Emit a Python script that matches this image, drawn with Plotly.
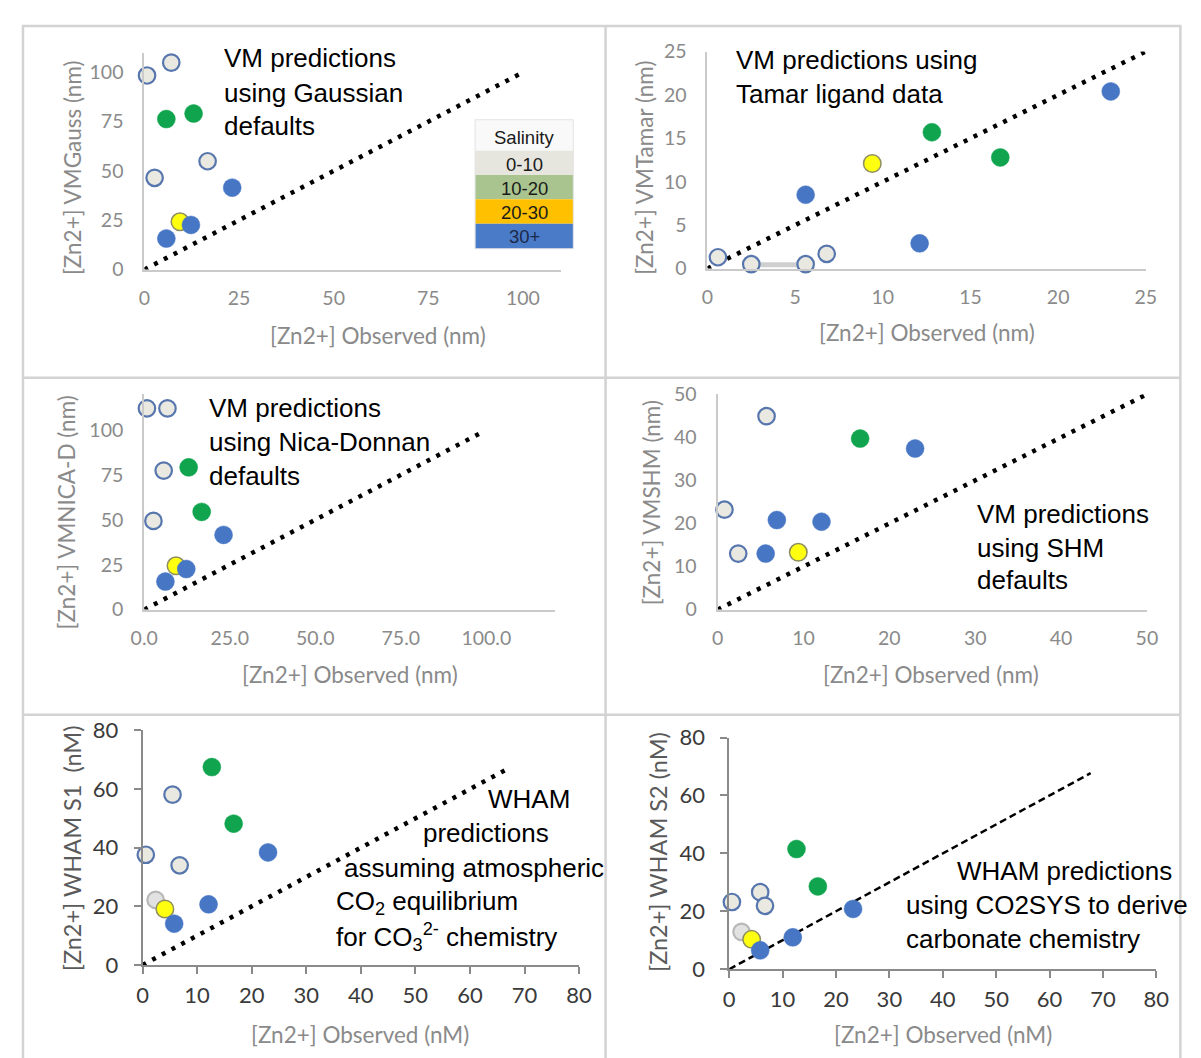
import plotly.graph_objects as go

# ---------------- data ----------------
salinity_classes = ["0-10", "10-20", "20-30", "30+"]

obs_gauss = [0.7, 7.1, 5.8, 13.0, 16.7, 2.7, 23.2, 9.4, 12.3, 5.8]
pred_gauss = [98.4, 104.9, 76.3, 79.1, 54.9, 46.5, 41.5, 24.2, 22.6, 15.7]
sal_gauss = ["0-10", "0-10", "10-20", "10-20", "0-10", "0-10", "30+", "20-30", "30+", "30+"]

obs_tamar = [0.6, 2.5, 5.6, 6.8, 5.6, 9.4, 12.1, 12.8, 16.7, 23.0]
pred_tamar = [1.3, 0.5, 0.5, 1.7, 8.5, 12.1, 2.9, 15.7, 12.8, 20.4]
sal_tamar = ["0-10", "0-10", "0-10", "0-10", "30+", "20-30", "30+", "10-20", "10-20", "30+"]
tamar_bar_x = [2.5, 5.6]
tamar_bar_y = [0.45, 0.45]

obs_nica = [0.8, 6.8, 5.7, 13.0, 2.7, 16.8, 23.2, 9.3, 12.3, 6.2]
pred_nica = [112, 112, 77.4, 79.2, 49.4, 54.4, 41.6, 24.4, 22.6, 15.6]
sal_nica = ["0-10", "0-10", "0-10", "10-20", "0-10", "10-20", "30+", "20-30", "30+", "30+"]

obs_shm = [12.7, 5.7, 16.6, 23.0, 0.8, 6.9, 12.1, 2.4, 5.6, 9.4]
pred_shm = [50.2, 44.9, 39.7, 37.4, 23.2, 20.8, 20.4, 13.0, 13.0, 13.3]
sal_shm = ["10-20", "0-10", "10-20", "30+", "0-10", "30+", "30+", "0-10", "30+", "20-30"]

obs_wham1 = [12.7, 5.5, 16.7, 0.6, 23.0, 6.8, 2.4, 4.1, 12.1, 5.8]
pred_wham1 = [67.5, 58.1, 48.2, 37.6, 38.4, 34.0, 22.2, 19.1, 20.7, 14.1]
sal_wham1 = ["10-20", "0-10", "10-20", "0-10", "30+", "0-10", "grey", "20-30", "30+", "30+"]

obs_wham2 = [12.6, 16.6, 5.8, 0.5, 6.7, 23.2, 2.3, 4.2, 11.9, 5.8]
pred_wham2 = [41.5, 28.6, 26.6, 23.2, 21.9, 20.8, 12.9, 10.3, 11.0, 6.5]
sal_wham2 = ["10-20", "10-20", "0-10", "0-10", "0-10", "30+", "grey", "20-30", "30+", "30+"]

one_to_one_end = [100, 25, 98, 50, 66.5, 67.7]

ticks_gauss = [0, 25, 50, 75, 100]
ticks_tamar = [0, 5, 10, 15, 20, 25]
ticks_nica = [0, 25, 50, 75, 100]
ticks_shm = [0, 10, 20, 30, 40, 50]
ticks_wham_x = [0, 10, 20, 30, 40, 50, 60, 70, 80]
ticks_wham_y = [0, 20, 40, 60, 80]

legend_title = "Salinity"

# ---------------- styling / layout ----------------
W, H = 1201, 1058
OFF = 8  # the page body adds an 8px margin; compensate so positions land where intended


def fx(p):
    return (p - OFF) / W


def fy(p):
    return 1 - (p - OFF) / H


draw_order = ["0-10", "grey", "20-30", "10-20", "30+"]
marker_style = {
    "0-10": dict(color="#e9e9e1", line=dict(color="#5776ad", width=2.2), size=16.5),
    "grey": dict(color="#e2e2e2", line=dict(color="#b8b8b8", width=2.2), size=16.5),
    "20-30": dict(color="#ffff10", line=dict(color="#8d8d60", width=1.5), size=17.5),
    "10-20": dict(color="#10a44f", line=dict(color="#10a44f", width=0.5), size=18),
    "30+": dict(color="#4676c4", line=dict(color="#4676c4", width=0.5), size=18),
}

panels = [
    dict(obs=obs_gauss, pred=pred_gauss, sal=sal_gauss, xr=[0, 110], yr=[0, 110],
         xt=ticks_gauss, yt=ticks_gauss, fmt="", box=(133.2, 559.2, 262, 39.4), theme="light",
         dash="4px,7px", lw=4.5,
         xtitle=("[Zn2+] Observed (nm)", 372.5, 330), ytitle=("[Zn2+] VMGauss (nm)", 59, 157)),
    dict(obs=obs_tamar, pred=pred_tamar, sal=sal_tamar, xr=[0, 25], yr=[0, 25],
         xt=ticks_tamar, yt=ticks_tamar, fmt="", box=(709.2, 1157.7, 261, 38.3), theme="light",
         dash="4px,7px", lw=4.5,
         xtitle=("[Zn2+] Observed (nm)", 934, 327), ytitle=("[Zn2+] VMTamar (nm)", 644, 158)),
    dict(obs=obs_nica, pred=pred_nica, sal=sal_nica, xr=[0, 120], yr=[0, 120],
         xt=ticks_nica, yt=ticks_nica, fmt=".1f", box=(133, 553, 611, 389.8), theme="light",
         dash="4px,7px", lw=4.5,
         xtitle=("[Zn2+] Observed (nm)", 343.5, 678), ytitle=("[Zn2+] VMNICA-D (nm)", 53.6, 511.7)),
    dict(obs=obs_shm, pred=pred_shm, sal=sal_shm, xr=[0, 50], yr=[0, 50],
         xt=ticks_shm, yt=ticks_shm, fmt="", box=(719.6, 1158.8, 611, 390), theme="light",
         dash="4px,7px", lw=4.5,
         xtitle=("[Zn2+] Observed (nm)", 938, 678), ytitle=("[Zn2+] VMSHM (nm)", 651.7, 501.7)),
    dict(obs=obs_wham1, pred=pred_wham1, sal=sal_wham1, xr=[0, 80], yr=[0, 80],
         xt=ticks_wham_x, yt=ticks_wham_y, fmt="", box=(131.3, 577.9, 975.7, 735), theme="dark",
         dash="4px,7px", lw=4.5,
         xtitle=("[Zn2+] Observed (nM)", 354, 1046.7), ytitle=("[Zn2+] WHAM S1  (nM)", 59.3, 855.8)),
    dict(obs=obs_wham2, pred=pred_wham2, sal=sal_wham2, xr=[0, 80], yr=[0, 80],
         xt=ticks_wham_x, yt=ticks_wham_y, fmt="", box=(731.5, 1168.4, 980, 742.3), theme="dark",
         dash="7px,4px", lw=2.5,
         xtitle=("[Zn2+] Observed (nM)", 949.8, 1046.7), ytitle=("[Zn2+] WHAM S2 (nM)", 659.4, 860)),
]

panel_text = [
    [("VM predictions", 212.4, 45), ("using Gaussian", 212.4, 81), ("defaults", 212.4, 115)],
    [("VM predictions using", 736, 47), ("Tamar ligand data", 736, 82)],
    [("VM predictions", 197, 404), ("using Nica-Donnan", 197, 439), ("defaults", 197, 474)],
    [("VM predictions", 983, 513), ("using SHM", 983, 547.5), ("defaults", 983, 581)],
    [("WHAM", 483, 805), ("predictions", 416.4, 840), ("assuming atmospheric", 334.9, 876),
     ("CO<sub>2</sub> equilibrium", 327.2, 911.7),
     ("for CO<sub>3</sub><sup>2-</sup> chemistry", 327.2, 946.7)],
    [("WHAM predictions", 962.2, 879), ("using CO2SYS to derive", 910.5, 914),
     ("carbonate chemistry", 910.5, 949)],
]

TICK_FONT = "Lato, Open Sans, sans-serif"
NOTE_FONT = "Arial, Liberation Sans, sans-serif"

fig = go.Figure()
layout = dict(width=W, height=H, margin=dict(l=0, r=0, t=0, b=0),
              paper_bgcolor="white", plot_bgcolor="rgba(0,0,0,0)", showlegend=False)
annotations = []
shapes = []

for i, p in enumerate(panels):
    n = "" if i == 0 else str(i + 1)
    xa, ya = "x" + n, "y" + n
    x0, x1, yb, yt = p["box"]
    light = p["theme"] == "light"
    common = dict(showgrid=False, zeroline=False, showline=True,
                  linecolor="#cacaca" if light else "#8a8a8a",
                  linewidth=2 if light else 1.5,
                  ticks="" if light else "outside", ticklen=7, tickcolor="#8a8a8a", tickwidth=1.5,
                  tickfont=dict(family=TICK_FONT, size=19.5 if light else 22,
                                color="#8a8a8a" if light else "#3a3a3a"),
                  fixedrange=True)
    layout["xaxis" + n] = dict(common, domain=[fx(x0), fx(x1)], range=p["xr"],
                               tickvals=p["xt"], tickformat=p["fmt"], anchor=ya,
                               ticklabelstandoff=10 if light else 3)
    layout["yaxis" + n] = dict(common, domain=[fy(yb), fy(yt)], range=p["yr"],
                               tickvals=p["yt"], anchor=xa,
                               ticklabelstandoff=15 if light else 11)

    # 1:1 reference line
    e = one_to_one_end[i]
    fig.add_trace(go.Scatter(x=[0, e], y=[0, e], xaxis=xa, yaxis=ya, mode="lines",
                             line=dict(color="black", width=p["lw"], dash=p["dash"]),
                             hoverinfo="skip", cliponaxis=False))
    if i == 1:
        fig.add_trace(go.Scatter(x=tamar_bar_x, y=tamar_bar_y, xaxis=xa, yaxis=ya, mode="lines",
                                 line=dict(color="#cfcfcf", width=5), hoverinfo="skip",
                                 cliponaxis=False))
    for cls in draw_order:
        xs = [xv for xv, s in zip(p["obs"], p["sal"]) if s == cls]
        ys = [yv for yv, s in zip(p["pred"], p["sal"]) if s == cls]
        if not xs:
            continue
        fig.add_trace(go.Scatter(x=xs, y=ys, xaxis=xa, yaxis=ya, mode="markers",
                                 marker=marker_style[cls], name=cls, cliponaxis=False))

    # axis titles
    t, cx, cy = p["xtitle"]
    annotations.append(dict(text=t, x=fx(cx), y=fy(cy), xref="paper", yref="paper",
                            showarrow=False, xanchor="center", yanchor="middle",
                            font=dict(family=TICK_FONT, size=22.5, color="#8a8a8a")))
    t, cx, cy = p["ytitle"]
    annotations.append(dict(text=t, x=fx(cx), y=fy(cy), xref="paper", yref="paper",
                            showarrow=False, xanchor="center", yanchor="middle", textangle=-90,
                            font=dict(family=TICK_FONT, size=22.5 if light else 23.5,
                                      color="#8a8a8a" if light else "#5a5a5a")))
    for t, lx, cy in panel_text[i]:
        annotations.append(dict(text=t, x=fx(lx), y=fy(cy), xref="paper", yref="paper",
                                showarrow=False, xanchor="left", yanchor="middle",
                                font=dict(family=NOTE_FONT, size=26, color="black")))

# salinity key (panel 1)
key_rows = [legend_title] + salinity_classes
key_fill = ["#f9f9f9", "#e6e5de", "#a9c48e", "#ffc000", "#4a7bc9"]
key_edges = [108.3, 140, 165, 190, 215, 240.7]
key_centers = [126.7, 154, 179, 203, 228]
for k, lab in enumerate(key_rows):
    shapes.append(dict(type="rect", xref="paper", yref="paper", x0=fx(471.5), x1=fx(572),
                       y0=fy(key_edges[k + 1]), y1=fy(key_edges[k]),
                       fillcolor=key_fill[k], line=dict(width=0), layer="below"))
    annotations.append(dict(text=lab, x=fx(522), y=fy(key_centers[k]), xref="paper", yref="paper",
                            showarrow=False, xanchor="center", yanchor="middle",
                            font=dict(family=NOTE_FONT, size=18.5,
                                      color="#1c2a48" if lab == "30+" else "#1a1a1a")))
shapes.append(dict(type="rect", xref="paper", yref="paper", x0=fx(471.5), x1=fx(572),
                   y0=fy(240.7), y1=fy(108.3), line=dict(color="#e3e3e3", width=1), layer="below"))

# table grid around the six charts
grid = dict(color="#d3d3d3", width=2.5)
shapes.append(dict(type="rect", xref="paper", yref="paper", x0=fx(9), x1=fx(1193),
                   y0=fy(1075), y1=fy(12), line=grid, layer="below"))
shapes.append(dict(type="line", xref="paper", yref="paper", x0=fx(605), x1=fx(605),
                   y0=fy(1075), y1=fy(12), line=grid, layer="below"))
for yy in (373, 719):
    shapes.append(dict(type="line", xref="paper", yref="paper", x0=fx(9), x1=fx(1193),
                       y0=fy(yy), y1=fy(yy), line=grid, layer="below"))

layout["annotations"] = annotations
layout["shapes"] = shapes
fig.update_layout(**layout)
fig.write_html("out.html")
